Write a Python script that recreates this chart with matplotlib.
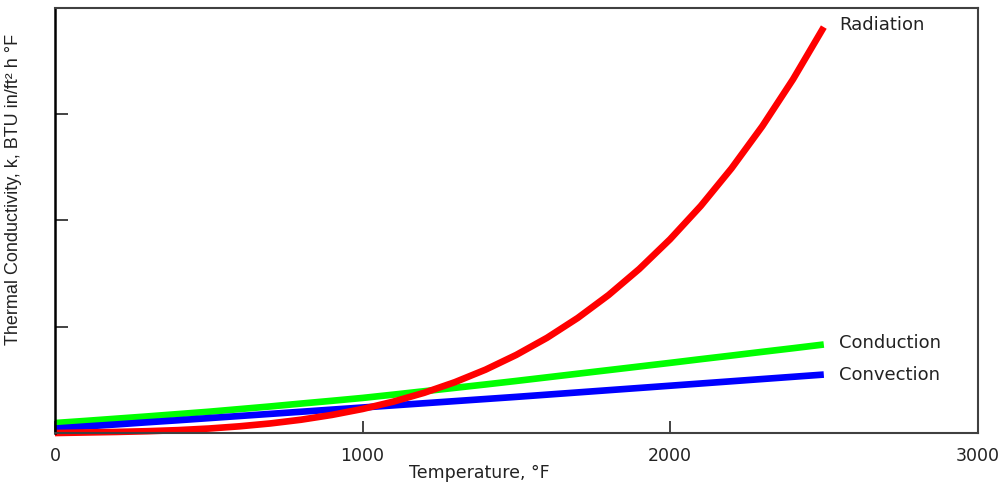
"""
Thermal conductivity vs temperature: conduction, convection and radiation
components, redrawn from a reference chart.
"""

#region imports
import matplotlib
matplotlib.use('Agg')
import matplotlib.pyplot as plt
#endregion

#region data
temperature = [0, 100, 200, 300, 400, 500, 600, 700, 800, 900, 1000,
               1100, 1200, 1300, 1400, 1500, 1600, 1700, 1800, 1900, 2000,
               2100, 2200, 2300, 2400, 2500]

conduction = [0.094, 0.114, 0.135, 0.156, 0.178, 0.200, 0.225, 0.250, 0.277,
              0.303, 0.330, 0.361, 0.393, 0.425, 0.457, 0.490, 0.524, 0.558,
              0.592, 0.626, 0.660, 0.695, 0.729, 0.764, 0.798, 0.833]

convection = [0.042, 0.062, 0.081, 0.101, 0.120, 0.140, 0.160, 0.180, 0.200,
              0.220, 0.240, 0.260, 0.280, 0.300, 0.320, 0.340, 0.361, 0.382,
              0.403, 0.424, 0.445, 0.466, 0.487, 0.508, 0.529, 0.550]

radiation = [0.000, 0.005, 0.010, 0.017, 0.027, 0.042, 0.063, 0.090, 0.125,
             0.170, 0.226, 0.295, 0.378, 0.478, 0.596, 0.735, 0.896, 1.083,
             1.298, 1.544, 1.823, 2.137, 2.491, 2.887, 3.329, 3.820]

x_ticks = [0, 1000, 2000, 3000]
y_ticks = [1, 2, 3]
#endregion

#region plot
fig = plt.figure(figsize=(10.05, 4.83), dpi=100)
ax = fig.add_axes([0.0547, 0.1035, 0.9180, 0.8800])

# green under blue under red, red sits on top at the crossings
ax.plot(temperature, conduction, color='#00ff00', linewidth=4.8,
        solid_capstyle='butt', clip_on=False)
ax.plot(temperature, convection, color='#0000ff', linewidth=4.8,
        solid_capstyle='butt', clip_on=False)
ax.plot(temperature, radiation, color='#ff0000', linewidth=4.8,
        solid_capstyle='butt', clip_on=False)

# curve names next to the line ends
label_x = 2550
ax.text(label_x, radiation[-1] + 0.02, 'Radiation', fontsize=13,
        va='center', ha='left', color='#222222')
ax.text(label_x, conduction[-1] + 0.01, 'Conduction', fontsize=13,
        va='center', ha='left', color='#222222')
ax.text(label_x, convection[-1], 'Convection', fontsize=13,
        va='center', ha='left', color='#222222')

ax.set_xlim(0, 3000)
ax.set_ylim(0, 4)
ax.set_xticks(x_ticks)
ax.set_xticklabels([str(t) for t in x_ticks], fontsize=12.5, color='#222222')
ax.set_yticks(y_ticks)
ax.set_yticklabels([])

ax.tick_params(axis='x', direction='in', length=9, width=1.2, pad=10,
               color='#222222')
ax.tick_params(axis='y', direction='in', length=9, width=1.2,
               color='#222222')

# axis titles sit a little off centre in the reference
ax.set_xlabel('Temperature, °F', fontsize=12.5, color='#222222')
ax.xaxis.set_label_coords(0.46, -0.072)
ax.set_ylabel('Thermal Conductivity, k, BTU in/ft² h °F',
              family='Liberation Sans', fontsize=13, color='#222222')
ax.yaxis.set_label_coords(-0.036, 0.572)

for side in ['top', 'right', 'bottom']:
    ax.spines[side].set_color('#404040')
    ax.spines[side].set_linewidth(1.5)
ax.spines['left'].set_color('black')
ax.spines['left'].set_linewidth(1.8)

fig.savefig('out.png', dpi=100)
#endregion
